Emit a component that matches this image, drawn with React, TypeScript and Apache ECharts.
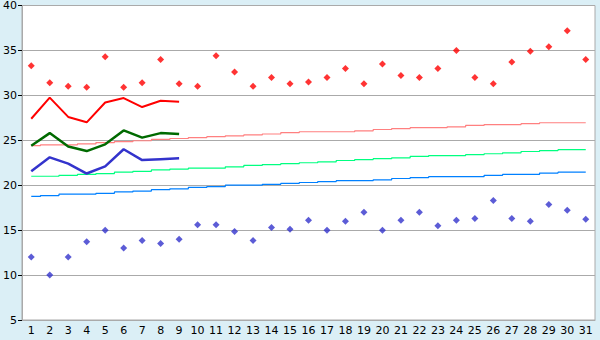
import React, { useEffect, useRef } from "react";
import * as echarts from "echarts";

const days = Array.from({ length: 31 }, (_, i) => String(i + 1));

const maxTemps = [33.3, 31.4, 31.0, 30.9, 34.3, 30.9, 31.4, 34.0, 31.3, 31.0, 34.4, 32.6, 31.0, 32.0, 31.3, 31.5, 32.0, 33.0, 31.3, 33.5, 32.2, 32.0, 33.0, 35.0, 32.0, 31.3, 33.7, 34.9, 35.4, 37.2, 34.0];
const minTemps = [12.0, 10.0, 12.0, 13.7, 15.0, 13.0, 13.85, 13.5, 14.0, 15.6, 15.6, 14.85, 13.85, 15.3, 15.1, 16.1, 15.0, 16.0, 17.0, 15.0, 16.1, 17.0, 15.5, 16.1, 16.3, 18.3, 16.3, 16.0, 17.85, 17.2, 16.2];

const maxLine = [27.4, 29.75, 27.6, 27.0, 29.2, 29.7, 28.7, 29.4, 29.3];
const meanLine = [24.4, 25.8, 24.3, 23.8, 24.55, 26.1, 25.3, 25.8, 25.7];
const minLine = [21.55, 23.1, 22.4, 21.3, 22.1, 24.0, 22.8, 22.9, 23.0];

const normalMax = [24.4, 24.5, 24.5, 24.6, 24.75, 24.85, 24.95, 25.1, 25.2, 25.3, 25.4, 25.5, 25.6, 25.7, 25.85, 25.95, 25.95, 25.95, 26.05, 26.2, 26.3, 26.4, 26.4, 26.5, 26.65, 26.75, 26.75, 26.85, 26.95, 26.95, 26.95];
const normalMean = [21.0, 21.0, 21.1, 21.2, 21.3, 21.45, 21.55, 21.7, 21.8, 21.9, 21.9, 22.05, 22.2, 22.3, 22.4, 22.5, 22.6, 22.75, 22.85, 22.95, 23.05, 23.2, 23.3, 23.3, 23.4, 23.5, 23.6, 23.75, 23.85, 23.95, 23.95];
const normalMin = [18.75, 18.85, 19.0, 19.0, 19.1, 19.25, 19.35, 19.5, 19.6, 19.75, 19.85, 20.0, 20.0, 20.1, 20.2, 20.3, 20.4, 20.5, 20.5, 20.6, 20.75, 20.85, 20.95, 20.95, 20.95, 21.1, 21.2, 21.2, 21.35, 21.45, 21.45];

const yTicks = { min: 5, max: 40, interval: 5 };

export default function App() {
  const ref = useRef<HTMLDivElement>(null);
  useEffect(() => {
    if (!ref.current) return;
    const chart = echarts.init(ref.current, null, { renderer: "svg" });
    const font = "DejaVu Sans, Verdana, sans-serif";
    const stepLine = (data: number[], color: string) => ({
      type: "line",
      data,
      step: "middle",
      symbol: "none",
      lineStyle: { color, width: 1.2 },
      z: 2,
    });
    const thickLine = (data: number[], color: string, width: number) => ({
      type: "line",
      data,
      symbol: "none",
      lineStyle: { color, width },
      z: 3,
    });
    chart.setOption({
      animation: false,
      backgroundColor: "#dbeff6",
      grid: {
        left: 20,
        right: 5,
        top: 5,
        bottom: 20,
        show: true,
        backgroundColor: "#ffffff",
        borderColor: "#aaaaaa",
        borderWidth: 1,
      },
      xAxis: {
        type: "category",
        data: days,
        boundaryGap: true,
        axisLine: { lineStyle: { color: "#aaaaaa", width: 1 } },
        axisTick: { alignWithLabel: true, length: 4, lineStyle: { color: "#000" } },
        axisLabel: { color: "#000", fontSize: 11, fontFamily: font, margin: 5, interval: 0 },
        splitLine: { show: false },
      },
      yAxis: {
        type: "value",
        min: yTicks.min,
        max: yTicks.max,
        interval: yTicks.interval,
        axisLine: { show: true, lineStyle: { color: "#aaaaaa", width: 1 } },
        axisTick: { show: true, length: 4, lineStyle: { color: "#000" } },
        axisLabel: { color: "#000", fontSize: 11, fontFamily: font, margin: 5 },
        splitLine: { show: true, lineStyle: { color: "#aaaaaa", width: 1 } },
      },
      series: [
        stepLine(normalMax, "#ff8080"),
        stepLine(normalMean, "#00ff80"),
        stepLine(normalMin, "#0080ff"),
        thickLine(maxLine, "#ff0000", 2),
        thickLine(meanLine, "#006a00", 2.5),
        thickLine(minLine, "#3333cc", 2.5),
        {
          type: "scatter",
          data: maxTemps,
          symbol: "diamond",
          symbolSize: 7,
          itemStyle: { color: "#ff0000" },
          z: 4,
        },
        {
          type: "scatter",
          data: minTemps,
          symbol: "diamond",
          symbolSize: 7,
          itemStyle: { color: "#3333cc" },
          z: 4,
        },
      ],
    });
    return () => chart.dispose();
  }, []);
  return (
    <div
      ref={ref}
      style={{ position: "fixed", left: 0, top: 0, width: 600, height: 340 }}
    />
  );
}
